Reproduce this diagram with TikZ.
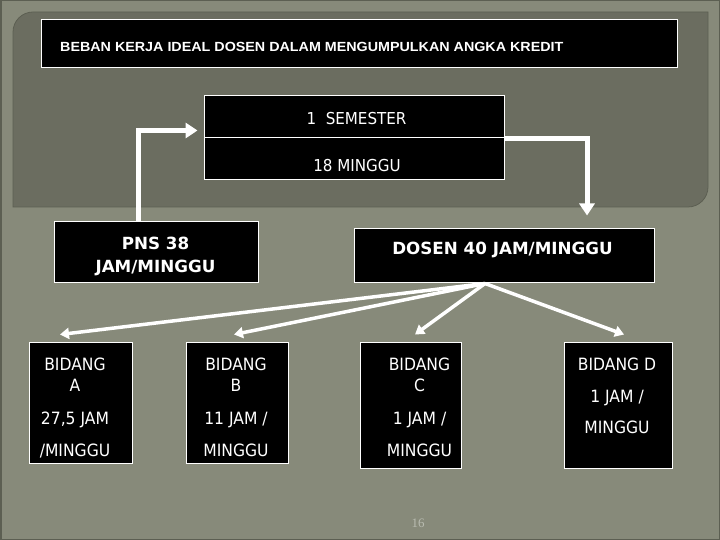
\documentclass[tikz,border=0pt]{standalone}
\usepackage{fontspec}
\setmainfont{DejaVu Sans}
\newfontfamily\tah[FakeStretch=0.92]{DejaVu Sans}
\newfontfamily\tahb{DejaVu Sans}
\newfontfamily\ttl[FakeStretch=1.08]{Liberation Sans}
\newfontfamily\pgserif{Liberation Serif}
\usetikzlibrary{arrows.meta}
\definecolor{bgout}{HTML}{878A7A}
\definecolor{bgpanel}{HTML}{6B6D60}
\definecolor{edgecol}{HTML}{5C5F52}
\definecolor{pagenum}{HTML}{B8BBB0}
\tikzset{
  box/.style={draw=white, fill=black, line width=1bp, inner sep=0pt},
  txt/.style={text=white, inner sep=0pt, align=center},
  bigarrow/.style={draw=white, line width=5bp, -{Triangle[length=12bp,width=15bp]}},
  fanarrow/.style={draw=white, line width=3.5bp, -{Triangle[length=9bp,width=11bp]}},
  regtxt/.style={txt, font=\tah\fontsize{17}{21}\selectfont},
  boldtxt/.style={txt, font=\tahb\bfseries\fontsize{16.8}{23}\selectfont}
}
\begin{document}
\begin{tikzpicture}[x=1bp,y=-1bp]
\useasboundingbox (0,0) rectangle (720,540);
\fill[bgout] (0,0) rectangle (720,540);
\draw[edgecol, line width=3bp] (0,0) rectangle (720,540);
% panel
\fill[bgpanel, draw=edgecol, line width=0.8bp] (13,207) -- (13,32) .. controls (13,21) and (22,12) .. (33,12) -- (708,12) -- (708,187) .. controls (708,198) and (699,207) .. (688,207) -- cycle;

% title
\node[box, minimum width=635bp, minimum height=48bp] (title) at (359.5,44) {};
\node[txt, anchor=west, font=\ttl\bfseries\fontsize{13.3}{15}\selectfont] (titletxt) at (60,47) {BEBAN KERJA IDEAL DOSEN DALAM MENGUMPULKAN ANGKA KREDIT};

% semester
\node[box, minimum width=300bp, minimum height=42bp] (sem1) at (354,117) {};
\node[box, minimum width=300bp, minimum height=42bp] (sem2) at (354,159) {};
\node[txt, font=\tah\fontsize{16.5}{18}\selectfont] (sem1txt) at (356.5,118.5) {1\ \ SEMESTER};
\node[txt, font=\tah\fontsize{16.5}{18}\selectfont] (sem2txt) at (357,166) {18 MINGGU};

% PNS and DOSEN
\node[box, minimum width=203bp, minimum height=60bp] (pns) at (156.5,252) {};
\node[boldtxt, anchor=north] (pnstxt) at (155.5,237) {PNS 38\\JAM/MINGGU};
\node[box, minimum width=300bp, minimum height=53bp] (dosen) at (504,255.5) {};
\node[boldtxt] (dosentxt) at (502.5,250) {DOSEN 40 JAM/MINGGU};

% bidang boxes
\node[box, minimum width=102bp, minimum height=121bp] (A) at (81,402.5) {};
\node[box, minimum width=102bp, minimum height=121bp] (B) at (237,402.5) {};
\node[box, minimum width=101bp, minimum height=126bp] (C) at (410.5,405) {};
\node[box, minimum width=108bp, minimum height=126bp] (D) at (618,405) {};
\node[regtxt, anchor=north] (Atxt) at (75,357.5) {BIDANG\\A\\[12bp]27,5 JAM\\[11bp]/MINGGU};
\node[regtxt, anchor=north] (Btxt) at (236,357.5) {BIDANG\\B\\[12bp]11 JAM /\\[11bp]MINGGU};
\node[regtxt, anchor=north] (Ctxt) at (419.5,357.5) {BIDANG\\C\\[12bp]1 JAM /\\[11bp]MINGGU};
\node[regtxt, anchor=north] (Dtxt) at (617,357.5) {BIDANG D\\[11bp]1 JAM /\\[10bp]MINGGU};

% top arrows
\draw[bigarrow] ([xshift=-18.5bp]pns.north) |- ([xshift=-6bp,yshift=8bp]sem1.south west);
\draw[bigarrow] (sem1.south east) -| ([xshift=83bp,yshift=13bp]dosen.north);

% fan arrows
\coordinate (fan) at ([xshift=-19bp,yshift=-1bp]dosen.south);
\draw[fanarrow] (fan) -- ([xshift=-21bp,yshift=7bp]A.north);
\draw[fanarrow] (fan) -- ([xshift=-3bp,yshift=7bp]B.north);
\draw[fanarrow] (fan) -- ([xshift=4.5bp,yshift=7bp]C.north);
\draw[fanarrow] (fan) -- ([xshift=6bp,yshift=7bp]D.north);

% page number
\node[text=pagenum, inner sep=0pt, font=\pgserif\fontsize{13}{13}\selectfont] (pg) at (418,523) {16};
\end{tikzpicture}
\end{document}
